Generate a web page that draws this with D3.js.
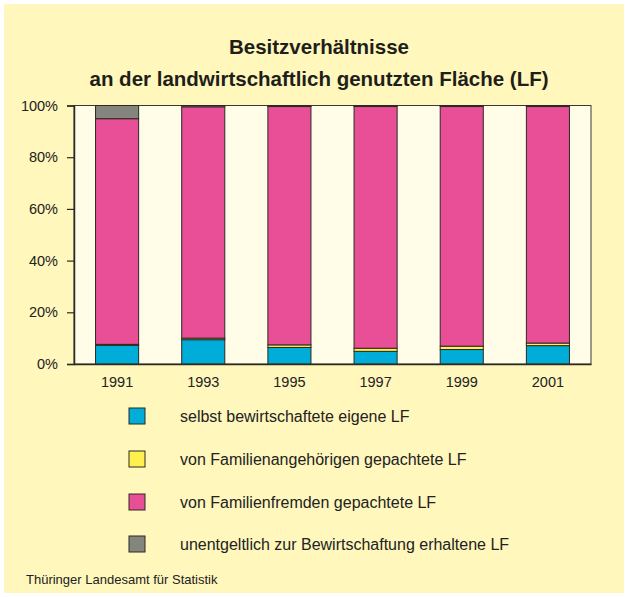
<!DOCTYPE html>
<html>
<head>
<meta charset="utf-8">
<script src="https://cdn.jsdelivr.net/npm/d3@7"></script>
<style>
html,body{margin:0;padding:0;background:#ffffff;}
svg{display:block;font-family:"Liberation Sans",Arial,sans-serif;}
</style>
</head>
<body>
<svg id="chart" width="628" height="597"></svg>
<script>
const years = ['1991','1993','1995','1997','1999','2001'];
const seriesNames = [
  'selbst bewirtschaftete eigene LF',
  'von Familienangehörigen gepachtete LF',
  'von Familienfremden gepachtete LF',
  'unentgeltlich zur Bewirtschaftung erhaltene LF'
];
const eigene      = [7.2, 9.4, 6.4, 4.9, 5.6, 7.1];
const angehoerige = [0.4, 0.6, 1.0, 1.2, 1.3, 1.0];
const fremde      = [87.3, 89.5, 92.2, 93.5, 92.7, 91.5];
const unentgelt   = [5.1, 0.5, 0.4, 0.4, 0.4, 0.4];
const yTicks = [0, 20, 40, 60, 80, 100];
const colors = ['#00acd8', '#fff04e', '#e94f96', '#858580'];

const svg = d3.select('#chart');
svg.append('rect').attr('x',4).attr('y',4).attr('width',620).attr('height',589).attr('fill','#fff7bc');

const m = {l:74, r:591, t:105.5, b:364};
const x = d3.scaleBand().domain(years).range([m.l, m.r]).paddingInner(0.5).paddingOuter(0.25);
const y = d3.scaleLinear().domain([0,100]).range([m.b, m.t]);

svg.append('rect').attr('x',m.l).attr('y',m.t).attr('width',m.r-m.l).attr('height',m.b-m.t)
  .attr('fill','#fffde8').attr('stroke','#3a3a30').attr('stroke-width',1);

const rows = years.map((yr,i)=>({year:yr, s0:eigene[i], s1:angehoerige[i], s2:fremde[i], s3:unentgelt[i]}));
const stack = d3.stack().keys(['s0','s1','s2','s3'])(rows);

svg.append('g').selectAll('g').data(stack).join('g')
  .attr('fill',(d,i)=>colors[i])
  .selectAll('rect').data(d=>d).join('rect')
  .attr('x',d=>x(d.data.year))
  .attr('width',x.bandwidth())
  .attr('y',d=>y(d[1]))
  .attr('height',d=>y(d[0])-y(d[1]))
  .attr('stroke','#2a2a24').attr('stroke-width',1);

const yAxis = svg.append('g').attr('transform',`translate(${m.l},0)`)
  .call(d3.axisLeft(y).tickValues(yTicks).tickFormat(d=>d+'%').tickSize(7).tickPadding(9));
yAxis.select('.domain').attr('stroke','#2b2b22').attr('stroke-width',1.5);
yAxis.selectAll('line').attr('stroke','#2b2b22').attr('stroke-width',1.2);
yAxis.selectAll('text').attr('font-size',14.5).attr('fill','#222').attr('font-family','"Liberation Sans",Arial,sans-serif');

const xAxis = svg.append('g').attr('transform',`translate(0,${m.b})`)
  .call(d3.axisBottom(x).tickSize(0).tickPadding(13));
xAxis.select('.domain').attr('stroke','#2b2b22').attr('stroke-width',1.5);
xAxis.selectAll('text').attr('font-size',14.5).attr('fill','#222').attr('font-family','"Liberation Sans",Arial,sans-serif');

svg.append('text').attr('x',319).attr('y',54).attr('text-anchor','middle')
  .attr('font-size',20.5).attr('font-weight','bold').attr('fill','#1e1e1a').text('Besitzverhältnisse');
svg.append('text').attr('x',319).attr('y',86).attr('text-anchor','middle')
  .attr('font-size',20.5).attr('font-weight','bold').attr('fill','#1e1e1a').text('an der landwirtschaftlich genutzten Fläche (LF)');

const legendY = [416, 459, 502, 544];
const lg = svg.append('g').selectAll('g').data(seriesNames).join('g')
  .attr('transform',(d,i)=>`translate(0,${legendY[i]})`);
lg.append('rect').attr('x',129).attr('y',-8).attr('width',16).attr('height',16)
  .attr('fill',(d,i)=>colors[i]).attr('stroke','#2a2a24').attr('stroke-width',1);
lg.append('text').attr('x',180).attr('y',5.5).attr('font-size',16).attr('fill','#222').text(d=>d);

svg.append('text').attr('x',26).attr('y',584).attr('font-size',13).attr('fill','#222')
  .text('Thüringer Landesamt für Statistik');
</script>
</body>
</html>
